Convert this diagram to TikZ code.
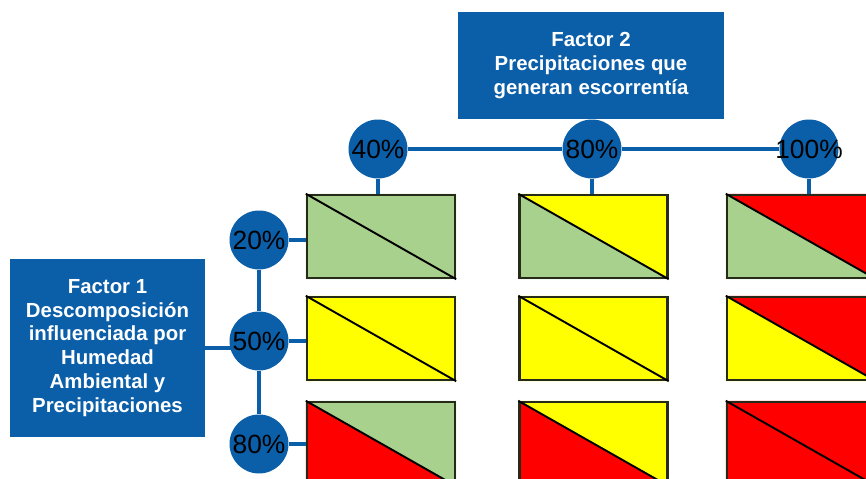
\documentclass[tikz,border=0pt]{standalone}
\usepackage{fontspec}
\setmainfont{Liberation Sans}
\usetikzlibrary{calc}
\usetikzlibrary{backgrounds}

\begin{document}
\begin{tikzpicture}[x=0.02cm,y=-0.02cm,
    factor/.style={fill=fblue,draw=none,text=white,align=center,inner sep=0pt,
      font=\fontsize{11.6}{13.6}\selectfont\bfseries},
    pct/.style={circle,fill=fblue,draw=none,minimum size=1.18cm,inner sep=0pt,
      font=\fontsize{15}{16}\selectfont},
    cell/.style={draw=cborder,line width=1.4pt,minimum width=2.96cm,minimum height=1.66cm,inner sep=0pt},
    link/.style={-,draw=fblue,line width=2.3pt}]

\definecolor{fblue}{RGB}{11,94,168}
\definecolor{cborder}{RGB}{38,42,24}
\definecolor{lgreen}{RGB}{169,209,142}
\definecolor{yel}{RGB}{255,255,0}
\definecolor{rd}{RGB}{255,0,0}

\useasboundingbox (0,0) rectangle (866,479);
\clip (0,0) rectangle (866,479);

% factor boxes
\node[factor,minimum width=5.32cm,minimum height=2.14cm] (f2) at (591,65.5)
  {Factor 2\\Precipitaciones que\\generan escorrentía};
\node[factor,minimum width=3.9cm,minimum height=3.56cm] (f1) at (107.5,348)
  {Factor 1\\Descomposición\\influenciada por\\Humedad\\Ambiental y\\Precipitaciones};

% percentage circles
\node[pct] (c40) at (378,149) {\makebox[0pt]{40\%}};
\node[pct] (c80) at (592,149) {\makebox[0pt]{80\%}};
\node[pct] (c100) at (809,149) {\makebox[0pt]{100\%}};
\node[pct] (r20) at (259,240) {\makebox[0pt]{20\%}};
\node[pct] (r50) at (259,341) {\makebox[0pt]{50\%}};
\node[pct] (r80) at (259,444) {\makebox[0pt]{80\%}};

% cells
\node[cell] (a1) at (381,236.5) {};
\node[cell] (a2) at (593.5,236.5) {};
\node[cell] (a3) at (801,236.5) {};
\node[cell] (b1) at (381,338.5) {};
\node[cell] (b2) at (593.5,338.5) {};
\node[cell] (b3) at (801,338.5) {};
\node[cell] (d1) at (381,443.5) {};
\node[cell] (d2) at (593.5,443.5) {};
\node[cell] (d3) at (801,443.5) {};

\begin{scope}[on background layer]
\fill[lgreen] (a1.north west) |- (a1.south east) -- cycle;
\fill[lgreen] (a1.north west) -| (a1.south east) -- cycle;
\fill[lgreen] (a2.north west) |- (a2.south east) -- cycle;
\fill[yel] (a2.north west) -| (a2.south east) -- cycle;
\fill[lgreen] (a3.north west) |- (a3.south east) -- cycle;
\fill[rd] (a3.north west) -| (a3.south east) -- cycle;
\fill[yel] (b1.north west) |- (b1.south east) -- cycle;
\fill[yel] (b1.north west) -| (b1.south east) -- cycle;
\fill[yel] (b2.north west) |- (b2.south east) -- cycle;
\fill[yel] (b2.north west) -| (b2.south east) -- cycle;
\fill[yel] (b3.north west) |- (b3.south east) -- cycle;
\fill[rd] (b3.north west) -| (b3.south east) -- cycle;
\fill[rd] (d1.north west) |- (d1.south east) -- cycle;
\fill[lgreen] (d1.north west) -| (d1.south east) -- cycle;
\fill[rd] (d2.north west) |- (d2.south east) -- cycle;
\fill[yel] (d2.north west) -| (d2.south east) -- cycle;
\fill[rd] (d3.north west) |- (d3.south east) -- cycle;
\fill[rd] (d3.north west) -| (d3.south east) -- cycle;

% connectors
\draw[link] (c40) -- (c80);
\draw[link] (c80) -- (c100);
\draw[link] (c40) -- (c40 |- a1.north);
\draw[link] (c80) -- (c80 |- a2.north);
\draw[link] (c100) -- (c100 |- a3.north);
\draw[link] (r20) -- (r50);
\draw[link] (r50) -- (r80);
\draw[link] (f1.east) -- (f1.east -| r50);
\draw[link] (r20) -- (r20 -| a1.west);
\draw[link] (r50) -- (r50 -| b1.west);
\draw[link] (r80) -- (r80 -| d1.west);
\end{scope}

\draw[line width=1.1pt,black] (a1.north west) -- (a1.south east);
\draw[line width=1.1pt,black] (a2.north west) -- (a2.south east);
\draw[line width=1.1pt,black] (a3.north west) -- (a3.south east);
\draw[line width=1.1pt,black] (b1.north west) -- (b1.south east);
\draw[line width=1.1pt,black] (b2.north west) -- (b2.south east);
\draw[line width=1.1pt,black] (b3.north west) -- (b3.south east);
\draw[line width=1.1pt,black] (d1.north west) -- (d1.south east);
\draw[line width=1.1pt,black] (d2.north west) -- (d2.south east);
\draw[line width=1.1pt,black] (d3.north west) -- (d3.south east);

\end{tikzpicture}
\end{document}
